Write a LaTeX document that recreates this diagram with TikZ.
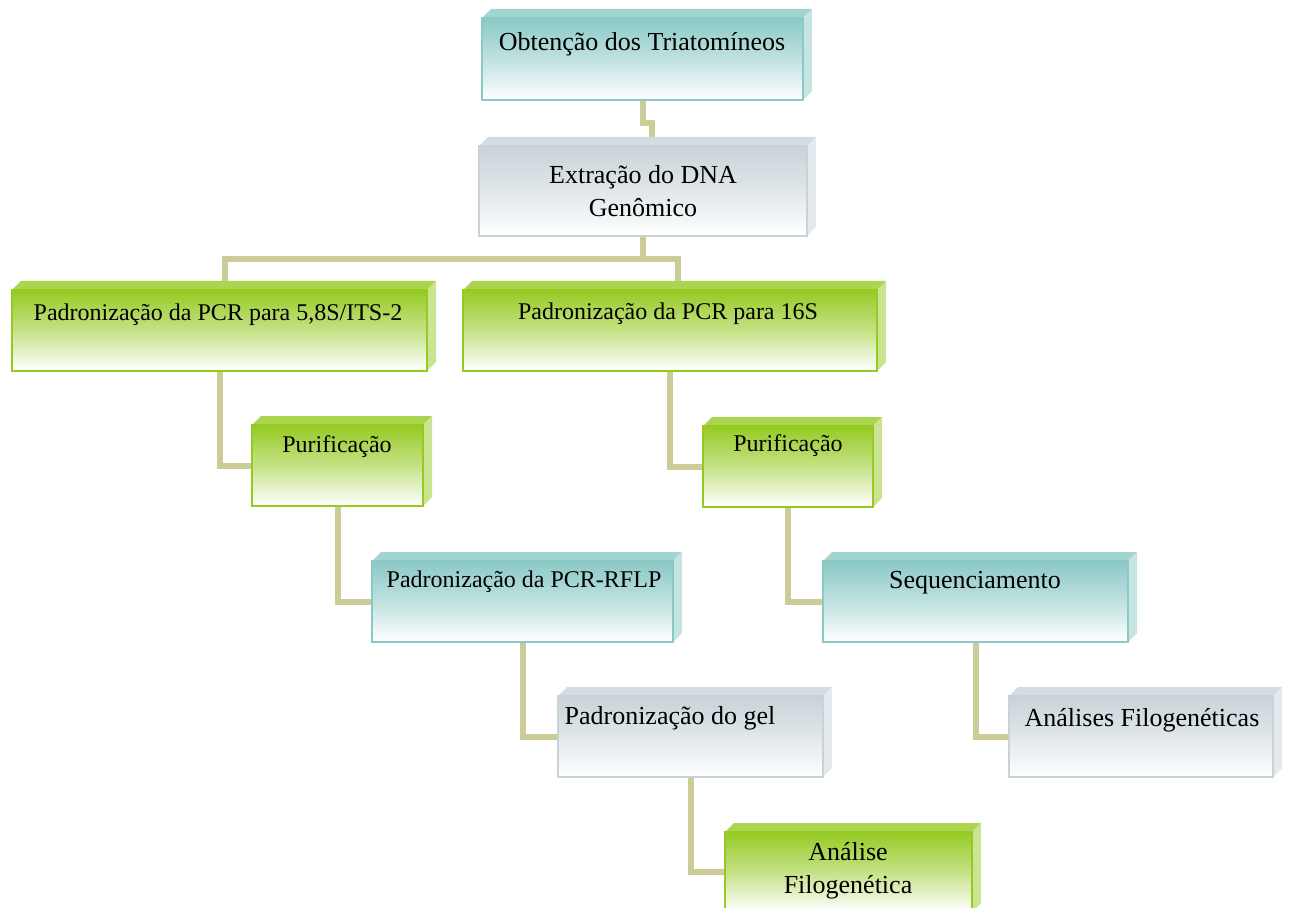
\documentclass[tikz,border=0pt]{standalone}
\usepackage{fontspec}
\setmainfont{Liberation Serif}
\usepackage{tikz}
\usetikzlibrary{calc}
\definecolor{verdeagua}{RGB}{139,201,198}
\definecolor{cinza}{RGB}{200,211,216}
\definecolor{verde}{RGB}{150,202,35}
\definecolor{caqui}{RGB}{204,204,153}
\pgfdeclarelayer{fundo}
\pgfsetlayers{fundo,main}
\newcommand{\menor}{\fontsize{12}{15}\selectfont}
\tikzset{
  frente/.style={draw=#1, line width=0.6pt, inner sep=0pt, top color=#1, bottom color=white, middle color=#1!55!white},
  rotulo/.style={inner sep=0pt, align=center, font=\fontsize{13}{16.5}\selectfont},
  conector/.style={draw=caqui, line width=3pt}
}
% name, colour, left, top, right, bottom, text x, text y, text
\newcommand{\caixa}[9]{ \fill[#2!80!white] (#3,#4) -- (#3+9,#4-9) -- (#5+9,#4-9) -- (#5,#4) -- cycle; \fill[#2!50!white] (#5,#4) -- (#5+9,#4-9) -- (#5+9,#6-9) -- (#5,#6) -- cycle; \node[frente=#2, minimum width={(#5-#3)*0.5pt}, minimum height={(#6-#4)*0.5pt}] (#1) at ({(#3+#5)/2},{(#4+#6)/2}){}; \node[rotulo] (#1-t) at (#7,#8){#9};}

\begin{document}
\begin{tikzpicture}[x=0.5pt,y=-0.5pt]
        \useasboundingbox (0,0) rectangle (1293,908);
        \clip (0,0) rectangle (1293,908);
        % level 1
        \caixa{obt}{verdeagua}{482}{18}{803}{100}{642}{44}{Obtenção dos Triatomíneos}
        % level 2
        \caixa{ext}{cinza}{479}{146}{807}{236}{643}{191}{Extração do DNA\\Genômico}
        % level 3
        \caixa{p58}{verde}{12}{290}{427}{371}{218}{315}{\menor Padronização da PCR para 5,8S/ITS-2}
        \caixa{p16}{verde}{463}{290}{877}{371}{668}{314}{\menor Padronização da PCR para 16S}
        % level 4
        \caixa{pur1}{verde}{252}{425}{423}{506}{337}{447}{\menor Purificação}
        \caixa{pur2}{verde}{703}{426}{873}{507}{788}{446}{\menor Purificação}
        % level 5
        \caixa{rflp}{verdeagua}{372}{561}{673}{642}{524}{582}{\menor Padronização da PCR-RFLP}
        \caixa{seq}{verdeagua}{823}{561}{1128}{642}{975}{583}{Sequenciamento}
        % level 6
        \caixa{gel}{cinza}{558}{696}{823}{777}{670}{718}{Padronização do gel}
        \caixa{anfs}{cinza}{1009}{696}{1273}{777}{1142}{720}{Análises Filogenéticas}
        % level 7
        \caixa{anf}{verde}{725}{832}{972}{912}{848}{871}{Análise\\Filogenética}

        % connectors
        \begin{pgfonlayer}{fundo}
        \draw[conector] (obt.south) -- ++(0,22) -| ($(ext.north)+(9,0)$);
        \draw[conector] (ext.south) -- ++(0,22) coordinate (barra);
        \draw[conector] ($(p58.north)+(5,0)$) |- (barra) -| ($(p16.north)+(8,0)$);
        \draw[conector] (p58.south) |- (pur1.west);
        \draw[conector] (p16.south) |- (pur2.west);
        \draw[conector] (pur1.south) |- (rflp.west);
        \draw[conector] (pur2.south) |- (seq.west);
        \draw[conector] (rflp.south) |- (gel.west);
        \draw[conector] (seq.south) |- (anfs.west);
        \draw[conector] (gel.south) |- (anf.west);
        \end{pgfonlayer}
    \end{tikzpicture}
\end{document}
